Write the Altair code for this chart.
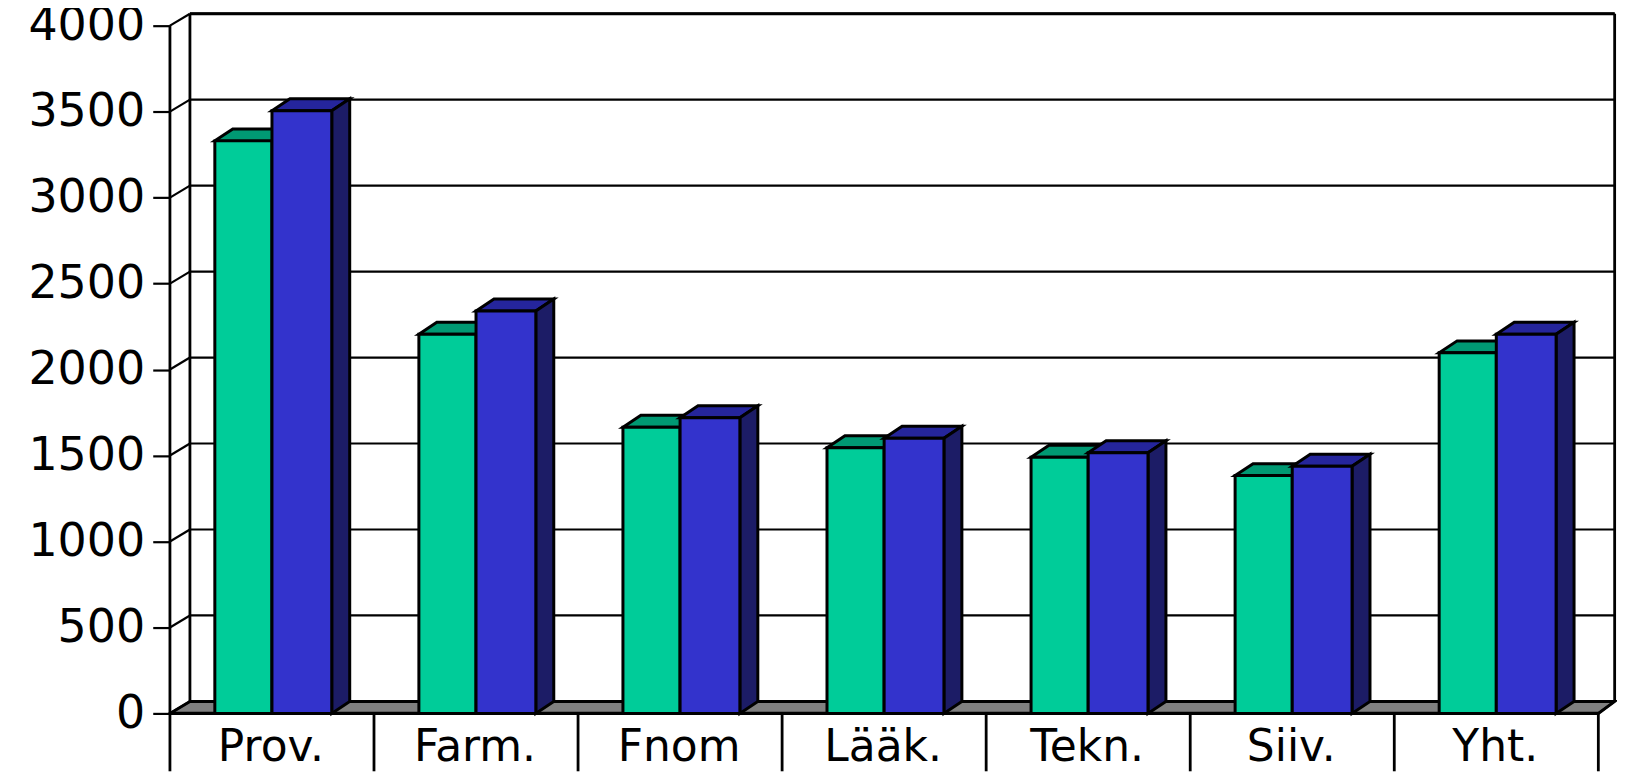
import altair as alt
import pandas as pd

categories = ["Prov.", "Farm.", "Fnom", "Lääk.", "Tekn.", "Siiv.", "Yht."]
green_values = [3330, 2205, 1665, 1545, 1490, 1383, 2097]
blue_values = [3505, 2340, 1720, 1600, 1516, 1437, 2205]
y_ticks = [0, 500, 1000, 1500, 2000, 2500, 3000, 3500, 4000]

FONT = "DejaVu Sans"
X_DOM = [-0.7936, 7.0915]
Y_DOM = [-336.7, 4098.7]
WALL_DX, WALL_DY = 0.098, 69.7
RIGHT_DX = 0.08
BAR_DX, BAR_DY = 0.088, 69.7
G_L, G_W, B_W = 0.22, 0.28, 0.293
LABEL_Y = -279

y_axis = alt.Axis(
    values=y_ticks, orient="left", offset=-162, domain=False, grid=False, title=None, format="d",
    tickSize=17, tickWidth=2.2, tickColor="black",
    labelFont=FONT, labelFontSize=46, labelColor="black", labelPadding=8,
    labelOverlap=False, labelFlush=False, labelBound=False,
)


def X(f):
    return alt.X(f, type="quantitative", scale=alt.Scale(domain=X_DOM, nice=False, zero=False), axis=None)


def Y(f):
    return alt.Y(f, type="quantitative", scale=alt.Scale(domain=Y_DOM, nice=False, zero=False), axis=y_axis, stack=None)


X2 = alt.X2("x2")
Y2 = alt.Y2("y2")

front_g, front_b, top_g, top_b, side_b = [], [], [], [], []
for i, (g, b) in enumerate(zip(green_values, blue_values)):
    gl = i + G_L
    gr = gl + G_W
    br = gr + B_W
    front_g.append(dict(x=gl, x2=gr, y=g, y2=0))
    front_b.append(dict(x=gr, x2=br, y=b, y2=0))
    top_g += [dict(id=i, y=g, x=gl, x2=gr), dict(id=i, y=g + BAR_DY, x=gl + BAR_DX, x2=gr + BAR_DX)]
    top_b += [dict(id=i, y=b, x=gr, x2=br), dict(id=i, y=b + BAR_DY, x=gr + BAR_DX, x2=br + BAR_DX)]
    side_b += [dict(id=i, x=br, y=b, y2=0), dict(id=i, x=br + BAR_DX, y=b + BAR_DY, y2=BAR_DY)]

n = len(categories)
back_r = n + RIGHT_DX
floor = pd.DataFrame([dict(id=0, y=0, x=0, x2=n), dict(id=0, y=WALL_DY, x=WALL_DX, x2=back_r)])
grid = pd.DataFrame([dict(x=WALL_DX, x2=back_r, y=t + WALL_DY, y2=t + WALL_DY) for t in y_ticks])
diag = pd.DataFrame([dict(x=0, x2=WALL_DX, y=t, y2=t + WALL_DY) for t in y_ticks])
verts = pd.DataFrame([
    dict(x=0, x2=0, y=0, y2=4000),
    dict(x=WALL_DX, x2=WALL_DX, y=WALL_DY, y2=4000 + WALL_DY),
    dict(x=back_r, x2=back_r, y=WALL_DY, y2=4000 + WALL_DY),
])
top_line = pd.DataFrame([dict(x=WALL_DX, x2=back_r, y=4000 + WALL_DY, y2=4000 + WALL_DY)])
corner = pd.DataFrame([dict(x=n, x2=back_r, y=0, y2=WALL_DY)])
seps = pd.DataFrame([dict(x=k, x2=k, y=0, y2=Y_DOM[0]) for k in range(n + 1)])
base = pd.DataFrame([dict(x=0, x2=n, y=0, y2=0)])
labels = pd.DataFrame([dict(x=i + 0.495, y=LABEL_Y, t=c) for i, c in enumerate(categories)])


def rule(df, w=2.2):
    return alt.Chart(df).mark_rule(color="black", strokeWidth=w).encode(x=X("x"), x2=X2, y=Y("y"), y2=Y2)


def horiz(rows, fill):
    return alt.Chart(pd.DataFrame(rows)).mark_area(
        orient="horizontal", fill=fill, stroke="black", strokeWidth=3, strokeJoin="miter", opacity=1
    ).encode(y=Y("y"), x=X("x"), x2=X2, detail="id:N")


def vert(rows, fill):
    return alt.Chart(pd.DataFrame(rows)).mark_area(
        orient="vertical", fill=fill, stroke="black", strokeWidth=3, strokeJoin="miter", opacity=1
    ).encode(x=X("x"), y=Y("y"), y2=Y2, detail="id:N")


def rect(rows, fill):
    return alt.Chart(pd.DataFrame(rows)).mark_rect(
        fill=fill, stroke="black", strokeWidth=3, opacity=1
    ).encode(x=X("x"), x2=X2, y=Y("y"), y2=Y2)


floor_layer = horiz(floor, "#808080")
text_layer = alt.Chart(labels).mark_text(
    font=FONT, fontSize=44, color="black", align="center", baseline="alphabetic"
).encode(x=X("x"), y=Y("y"), text="t:N")

chart = alt.layer(
    floor_layer,
    rule(grid),
    rule(diag),
    rule(verts, 2.8),
    rule(top_line, 3),
    rule(corner),
    rule(seps, 2.8),
    rule(base, 3.2),
    horiz(top_g, "#009973"),
    rect(front_g, "#00CC99"),
    horiz(top_b, "#25259C"),
    vert(side_b, "#1C1C66"),
    rect(front_b, "#3333CC"),
    text_layer,
).properties(
    width=1612, height=764, padding=0, background="white",
    autosize=alt.AutoSizeParams(type="none"),
).configure_view(stroke=None)

chart.save("out.html", embed_options={"renderer": "svg", "actions": False})
